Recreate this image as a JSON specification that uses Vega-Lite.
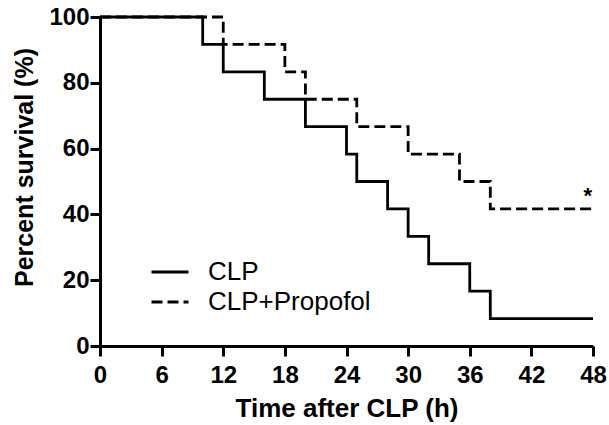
{
  "$schema": "https://vega.github.io/schema/vega-lite/v6.json",
  "width": 493,
  "height": 329,
  "autosize": "none",
  "padding": {"left": 100, "top": 17, "right": 16, "bottom": 79},
  "background": "white",
  "config": {
    "view": {"stroke": null},
    "font": "Liberation Sans"
  },
  "datasets": {
    "km": [
      {"time": 0, "survival": 100, "group": "CLP"},
      {"time": 10, "survival": 91.67, "group": "CLP"},
      {"time": 12, "survival": 83.33, "group": "CLP"},
      {"time": 16, "survival": 75, "group": "CLP"},
      {"time": 20, "survival": 66.67, "group": "CLP"},
      {"time": 24, "survival": 58.33, "group": "CLP"},
      {"time": 25, "survival": 50, "group": "CLP"},
      {"time": 28, "survival": 41.67, "group": "CLP"},
      {"time": 30, "survival": 33.33, "group": "CLP"},
      {"time": 32, "survival": 25, "group": "CLP"},
      {"time": 36, "survival": 16.67, "group": "CLP"},
      {"time": 38, "survival": 8.33, "group": "CLP"},
      {"time": 48, "survival": 8.33, "group": "CLP"},
      {"time": 0, "survival": 100, "group": "CLP+Propofol"},
      {"time": 12, "survival": 91.67, "group": "CLP+Propofol"},
      {"time": 18, "survival": 83.33, "group": "CLP+Propofol"},
      {"time": 20, "survival": 75, "group": "CLP+Propofol"},
      {"time": 25, "survival": 66.67, "group": "CLP+Propofol"},
      {"time": 30, "survival": 58.33, "group": "CLP+Propofol"},
      {"time": 35, "survival": 50, "group": "CLP+Propofol"},
      {"time": 38, "survival": 41.67, "group": "CLP+Propofol"},
      {"time": 48, "survival": 41.67, "group": "CLP+Propofol"}
    ],
    "sig": [
      {"time": 47.5, "survival": 45.5, "label": "*"}
    ]
  },
  "layer": [
    {
      "data": {"name": "km"},
      "mark": {"type": "line", "interpolate": "step-after", "strokeWidth": 2.8, "color": "black", "clip": false},
      "encoding": {
        "x": {
          "field": "time", "type": "quantitative",
          "scale": {"domain": [0, 48], "nice": false},
          "axis": {
            "values": [0, 6, 12, 18, 24, 30, 36, 42, 48],
            "title": "Time after CLP (h)",
            "titleFontSize": 26, "titleFontWeight": "bold", "titleColor": "black", "titlePadding": 8,
            "labelFontSize": 24, "labelFontWeight": "bold", "labelColor": "black", "labelPadding": 7,
            "domainColor": "black", "domainWidth": 3,
            "tickColor": "black", "tickWidth": 3, "tickSize": 10,
            "grid": false, "labelFlush": false
          }
        },
        "y": {
          "field": "survival", "type": "quantitative",
          "scale": {"domain": [0, 100], "nice": false},
          "axis": {
            "values": [0, 20, 40, 60, 80, 100],
            "title": "Percent survival (%)",
            "titleFontSize": 25, "titleFontWeight": "bold", "titleColor": "black", "titlePadding": 11,
            "titleY": 150,
            "labelFontSize": 24, "labelFontWeight": "bold", "labelColor": "black", "labelPadding": 1,
            "domainColor": "black", "domainWidth": 3,
            "tickColor": "black", "tickWidth": 3, "tickSize": 10,
            "grid": false, "labelFlush": false
          }
        },
        "strokeDash": {
          "field": "group", "type": "nominal",
          "scale": {"domain": ["CLP", "CLP+Propofol"], "range": [[1, 0], [11, 5]]},
          "legend": {
            "title": null,
            "orient": "none",
            "legendX": 50, "legendY": 242,
            "symbolType": "stroke",
            "symbolSize": 1369,
            "symbolStrokeWidth": 2.8,
            "symbolStrokeColor": "black",
            "labelFontSize": 26,
            "labelColor": "black",
            "labelOffset": 18,
            "labelLimit": 0,
            "clipHeight": 26,
            "rowPadding": 4
          }
        }
      }
    },
    {
      "data": {"name": "sig"},
      "mark": {"type": "text", "fontSize": 22, "fontWeight": "bold", "color": "black", "baseline": "middle", "align": "center"},
      "encoding": {
        "x": {"field": "time", "type": "quantitative"},
        "y": {"field": "survival", "type": "quantitative"},
        "text": {"field": "label"}
      }
    }
  ]
}
